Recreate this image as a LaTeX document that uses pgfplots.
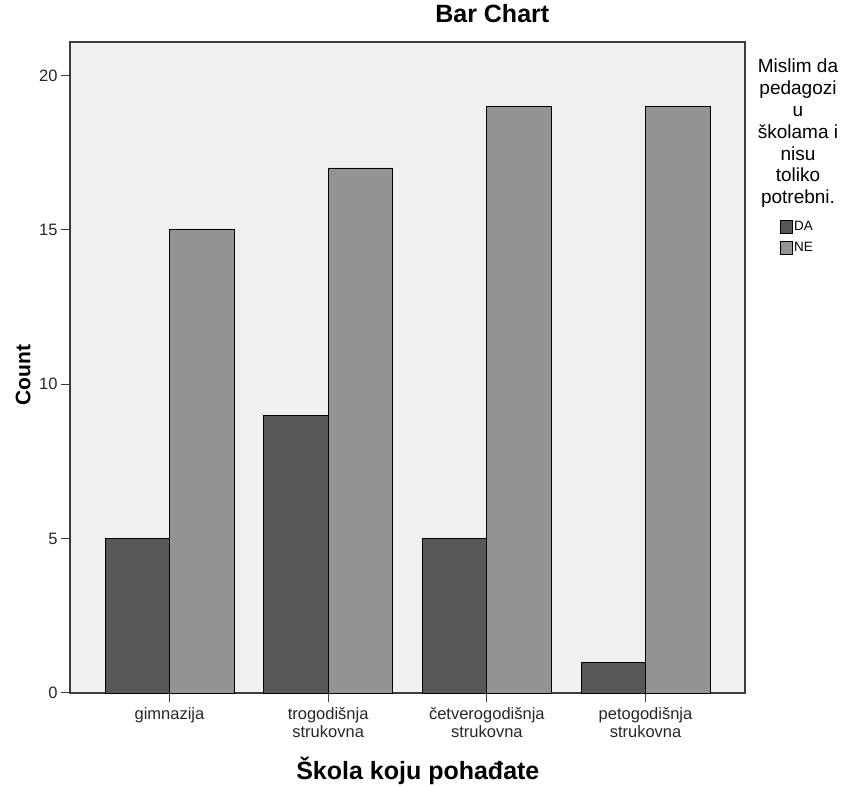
\documentclass[border=0pt]{standalone}
\usepackage{fontspec}
\setmainfont{Liberation Sans}
\usepackage{pgfplots}
\pgfplotsset{compat=1.18}
\definecolor{daC}{HTML}{575757}
\definecolor{neC}{HTML}{939393}
\definecolor{bgC}{HTML}{F0F0F0}
\definecolor{frameC}{HTML}{3C3C3C}
\begin{document}
\begin{tikzpicture}
\useasboundingbox (0pt,0pt) rectangle (849pt,787pt);
\begin{axis}[
  at={(70pt,94pt)}, anchor=south west,
  width=675pt, height=651pt, scale only axis,
  clip=false,
  xmin=-0.627, xmax=3.627, ymin=0, ymax=21.08,
  axis background/.style={fill=bgC},
  axis line style={draw=frameC, line width=1.5pt},
  ybar, bar width=0.4064,
  xtick={0,1,2,3},
  xticklabels={gimnazija,{trogodišnja\\strukovna},{četverogodišnja\\strukovna},{petogodišnja\\strukovna}},
  ytick={0,5,10,15,20},
  xtick pos=bottom, ytick pos=left,
  tick align=outside, major tick length=9pt,
  tick style={draw=frameC, line width=1pt},
  /pgf/number format/assume math mode=true,
  xticklabel style={align=center, font=\fontsize{16.5}{18}\selectfont, text=black!85, yshift=-2pt},
  yticklabel style={font=\fontsize{16.5}{18}\selectfont, text=black!85},
  title={Bar Chart},
  title style={at={(axis description cs:0.536,1.020)}, anchor=base west, font=\bfseries\fontsize{25}{29}\selectfont},
  xlabel={Škola koju pohađate},
  xlabel style={at={(axis description cs:0.330,-0.1336)}, anchor=base west, font=\bfseries\fontsize{25}{29}\selectfont},
  ylabel={Count},
  ylabel style={at={(axis description cs:-0.0696,0.4885)}, anchor=center, font=\bfseries\fontsize{21}{25}\selectfont},
  legend image code/.code={\draw[#1,draw=black,line width=0.7pt] (0pt,-6.5pt) rectangle (12pt,6.5pt);},
  legend style={at={(axis description cs:1.052,0.7266)}, anchor=north west, draw=none, fill=none, inner sep=0pt,
    font=\fontsize{13.5}{15}\selectfont, row sep=7pt, nodes={inner sep=1pt}},
  legend cell align=left,
]
\addplot[fill=daC, draw=black, line width=0.7pt, bar shift=-0.2032] coordinates {(0,5) (1,9) (2,5) (3,1)};
\addplot[fill=neC, draw=black, line width=0.7pt, bar shift=0.2032] coordinates {(0,15) (1,17) (2,19) (3,19)};
\legend{DA,NE}
\node[anchor=north, align=center, inner sep=0pt, font=\fontsize{19}{21.8}\selectfont] at (axis description cs:1.0785,0.974)
  {Mislim da\\pedagozi\\u\\školama i\\nisu\\toliko\\potrebni.};
\end{axis}
\end{tikzpicture}
\end{document}
